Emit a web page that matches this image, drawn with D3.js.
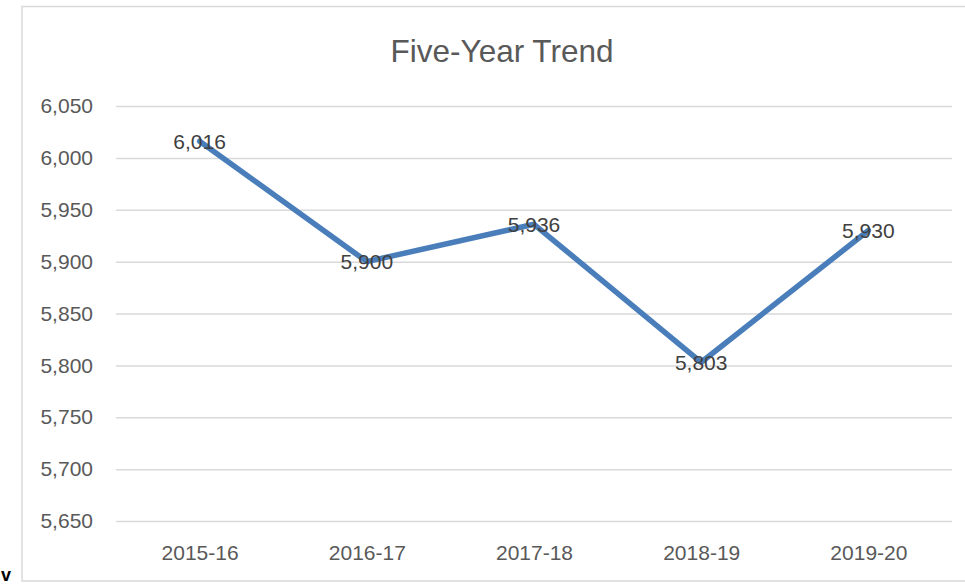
<!DOCTYPE html>
<html>
<head>
<meta charset="utf-8">
<script src="https://cdn.jsdelivr.net/npm/d3@7"></script>
<style>
  body { margin:0; background:#fff; }
  svg { display:block; font-family:"Liberation Sans", Arial, sans-serif; }
  .axis .domain { display:none; }
  .axis-y line { stroke:#d9d9d9; stroke-width:1.5; }
  .axis text { fill:#595959; font-size:21px; }
</style>
</head>
<body>
<div id="canvas"></div>
<script>
// data
var years = ['2015-16','2016-17','2017-18','2018-19','2019-20'];
var totals = [6016, 5900, 5936, 5803, 5930];
var yTicks = [5650, 5700, 5750, 5800, 5850, 5900, 5950, 6000, 6050];
var title = 'Five-Year Trend';

var outerWidth = 965, outerHeight = 586;
var m = {t:106, r:13, b:65, l:116};
var w = outerWidth - m.l - m.r,
    h = outerHeight - m.t - m.b;

var svg = d3.select('#canvas')
    .append('svg')
    .attr('width', outerWidth)
    .attr('height', outerHeight);

// chart frame
svg.append('rect')
    .attr('x', 22).attr('y', 6.5)
    .attr('width', 960).attr('height', 574.5)
    .attr('fill', 'none')
    .attr('stroke', '#d9d9d9')
    .attr('stroke-width', 1.5);

// stray glyph at the bottom left
svg.append('text')
    .attr('x', 1).attr('y', 581)
    .style('font-size', '18px')
    .style('font-weight', 'bold')
    .style('fill', '#000')
    .text('v');

svg.append('text')
    .attr('x', 502).attr('y', 62)
    .attr('text-anchor', 'middle')
    .style('font-size', '31.5px')
    .style('fill', '#595959')
    .text(title);

var plot = svg.append('g')
    .attr('transform', 'translate(' + m.l + ',' + m.t + ')');

var scaleX = d3.scalePoint()
    .domain(years)
    .range([0, w])
    .padding(0.5);
var scaleY = d3.scaleLinear()
    .domain([5650, 6050])
    .range([h, 0]);

var axisY = d3.axisLeft()
    .scale(scaleY)
    .tickValues(yTicks)
    .tickFormat(d3.format(','))
    .tickSize(-w)
    .tickPadding(23);
var axisX = d3.axisBottom()
    .scale(scaleX)
    .tickSize(0)
    .tickPadding(24);

plot.append('g').attr('class', 'axis axis-y').call(axisY);
plot.append('g').attr('class', 'axis axis-x')
    .attr('transform', 'translate(0,' + h + ')')
    .call(axisX);

var line = d3.line()
    .x(function(d, i){ return scaleX(years[i]); })
    .y(function(d){ return scaleY(d); });

plot.append('path')
    .datum(totals)
    .attr('d', line)
    .attr('fill', 'none')
    .attr('stroke', '#4a7ebb')
    .attr('stroke-width', 5.5)
    .attr('stroke-linejoin', 'round')
    .attr('stroke-linecap', 'round');

plot.selectAll('.label')
    .data(totals)
    .enter()
    .append('text')
    .attr('class', 'label')
    .attr('x', function(d, i){ return scaleX(years[i]); })
    .attr('y', function(d){ return scaleY(d); })
    .attr('dy', '0.35em')
    .attr('text-anchor', 'middle')
    .style('font-size', '21px')
    .style('fill', '#404040')
    .text(function(d){ return d3.format(',')(d); });
</script>
</body>
</html>
